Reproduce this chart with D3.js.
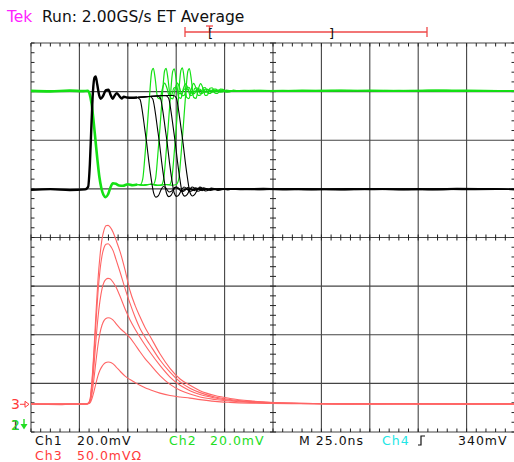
<!DOCTYPE html>
<html>
<head>
<meta charset="utf-8">
<script src="https://cdn.jsdelivr.net/npm/d3@7"></script>
<style>
  body { margin: 0; background: #fff; }
  svg { display: block; }
  text { font-family: "DejaVu Sans", sans-serif; }
</style>
</head>
<body>
<div id="chartContainer"></div>
<script>
// time in ns from the left edge of the screen, values in mV
// Ch1 / Ch2 read against the centre line (20 mV/div), Ch3 against its ground marker (50 mV/div)

// Ch1 (black): common rising edge, then five different falling edges
var ch1Head = [[0,19.6],[10,19.9],[20,19.5],[28,19.8],[29.5,20.8],[30.4,30],[31.2,46],[32,60],[32.8,65.8],[33.4,66.2],[34.2,63],[35.2,58.5],[36,57.1],[37.2,58.2],[38.6,60.5],[40,60.8],[41.2,58.5],[42.2,57.1],[43.3,58.5],[44.3,59.4],[45.5,58.3],[46.8,57.2],[48,57.9],[49.5,57.6],[52,57.5],[54.8,57.6]];
var ch1Tails = [
  [[56.3,56.8],[57.5,52],[58.7,45],[59.8,38.5],[60.9,31],[62.1,24],[63.3,18.5],[64.6,16.6],[65.8,17.2],[67.1,19.5],[68.4,21],[69.8,20.2],[71.3,18.7],[72.8,19.2],[74.3,20.6],[75.8,20.2],[77.8,19.2],[79.8,19.9],[82.8,19.6],[86.8,20.1],[95,19.7],[110,20.1],[130,19.6],[150,20],[175,19.7],[200,20.1],[225,19.7],[250,19.9]],
  [[58,57.8],[61.4,58],[62.9,57],[64.1,52],[65.3,45],[66.4,38.5],[67.5,31],[68.7,24],[69.9,18.5],[71.2,16.8],[72.4,17.4],[73.7,19.5],[75,20.9],[76.4,20.2],[77.9,18.8],[79.4,19.3],[80.9,20.5],[82.4,20.1],[84.4,19.3],[86.4,19.9],[89.4,19.6],[93.4,20.1],[105,19.8],[120,20.2],[140,19.7],[165,20.1],[190,19.6],[215,20],[250,19.7]],
  [[58,57.8],[62,58.1],[65.4,58.2],[66.9,57.2],[68.1,52],[69.3,45],[70.4,38.5],[71.5,31],[72.7,24],[73.9,18.5],[75.2,16.9],[76.4,17.5],[77.7,19.5],[79,20.8],[80.4,20.2],[81.9,18.9],[83.4,19.3],[84.9,20.4],[86.4,20.1],[88.4,19.3],[90.4,19.9],[93.4,19.6],[97.4,20.1],[108,19.7],[125,20.1],[145,19.6],[170,20],[195,19.7],[220,20.2],[250,19.8]],
  [[58,57.8],[63,58.1],[67,58.3],[69.6,58.3],[71.1,57.3],[72.3,52],[73.5,45],[74.6,38.5],[75.7,31],[76.9,24],[78.1,18.5],[79.4,17],[80.6,17.6],[81.9,19.5],[83.2,20.8],[84.6,20.2],[86.1,19],[87.6,19.4],[89.1,20.4],[90.6,20.1],[92.6,19.4],[94.6,19.9],[97.6,19.6],[101.6,20.1],[115,19.7],[135,20.1],[160,19.6],[185,20],[210,19.7],[235,20.1],[250,19.8]],
  [[58,57.8],[63,58.1],[68,58.4],[73.6,58.4],[75.1,57.4],[76.3,52],[77.5,45],[78.6,38.5],[79.7,31],[80.9,24],[82.1,18.5],[83.4,17.1],[84.6,17.7],[85.9,19.5],[87.2,20.7],[88.6,20.2],[90.1,19.1],[91.6,19.4],[93.1,20.3],[94.6,20.1],[96.6,19.4],[98.6,19.9],[101.6,19.6],[105.6,20.1],[118,19.7],[138,20.1],[160,19.7],[180,20.1],[205,19.6],[230,20],[250,19.7]]
];

// Ch2 (green): common falling edge, then five rising edges with ringing
var ch2Head = [[0,60.3],[10,60.1],[20,60.4],[27,60.2],[29.3,60.3],[30.3,59],[31.3,55],[32.3,48],[33.3,40],[34.3,32],[35.3,25],[36.3,20.5],[37.4,17.6],[38.6,16.6],[39.8,17.8],[41,20.5],[42.3,22.3],[43.8,22.1],[45.5,21.4],[47.5,21.3],[50,21.9],[52.5,21.5],[55,21.8]];
var ch2Tails = [
  [[56.5,21.8],[57.7,24],[58.8,33],[60,45],[61.2,58],[62.4,68.5],[63.2,69.6],[64.2,65],[65.4,57.5],[66.6,57],[67.8,61],[69,63.5],[70.2,61.5],[71.4,58.3],[72.6,58.5],[73.8,61.5],[75,61.8],[76.4,59.3],[77.8,59.2],[79.2,61],[80.6,61],[82,59.8],[84,59.8],[86,60.6],[89,60.2],[95,60.5],[110,60.1],[130,60.5],[150,60.1],[175,60.6],[200,60.2],[225,60.5],[250,60.3]],
  [[58,21.5],[61,21.9],[63.1,21.8],[64.3,24],[65.4,33],[66.6,45],[67.8,58],[69,68.5],[69.8,69.6],[70.8,65],[72,57.5],[73.2,57],[74.4,61],[75.6,63.5],[76.8,61.5],[78,58.3],[79.2,58.5],[80.4,61.5],[81.6,61.8],[83,59.3],[84.4,59.2],[85.8,61],[87.2,61],[88.6,59.8],[90.6,59.8],[92.6,60.6],[95.6,60.2],[105,60.4],[120,60.1],[140,60.6],[165,60.2],[190,60.5],[215,60.1],[250,60.4]],
  [[58,21.5],[62,21.9],[65,21.5],[67.3,21.6],[68.5,24],[69.6,33],[70.8,45],[72,58],[73.2,68.3],[74,69.4],[75,65],[76.2,57.8],[77.4,57.2],[78.6,61],[79.8,63.2],[81,61.5],[82.2,58.4],[83.4,58.6],[84.6,61.4],[85.8,61.6],[87.2,59.4],[88.6,59.3],[90,61],[91.4,60.9],[92.8,59.8],[94.8,59.9],[96.8,60.6],[99.8,60.2],[110,60.5],[130,60.1],[155,60.5],[180,60.2],[205,60.6],[230,60.2],[250,60.4]],
  [[58,21.5],[62,21.9],[66,21.4],[69,21.8],[71.5,21.7],[72.7,24],[73.8,33],[75,45],[76.2,58],[77.4,68.6],[78.2,69.8],[79.2,65],[80.4,57.6],[81.6,57.1],[82.8,61],[84,63.4],[85.2,61.5],[86.4,58.4],[87.6,58.6],[88.8,61.5],[90,61.7],[91.4,59.3],[92.8,59.3],[94.2,61],[95.6,61],[97,59.8],[99,59.9],[101,60.6],[104,60.2],[115,60.5],[135,60.2],[160,60.6],[185,60.1],[210,60.5],[235,60.2],[250,60.3]],
  [[58,21.5],[62,21.9],[66,21.4],[70,21.8],[73,21.5],[75.1,21.8],[76.3,24],[77.4,33],[78.6,45],[79.8,58],[81,68.3],[81.8,69.5],[82.8,65],[84,57.7],[85.2,57.2],[86.4,61],[87.6,63.3],[88.8,61.5],[90,58.4],[91.2,58.6],[92.4,61.4],[93.6,61.6],[95,59.4],[96.4,59.3],[97.8,61],[99.2,60.9],[100.6,59.8],[102.6,59.9],[104.6,60.6],[107.6,60.2],[118,60.5],[140,60.1],[165,60.5],[190,60.2],[215,60.6],[250,60.3]]
];

// Ch3 (red): five pulses
var ch3Traces = [
  [[0,0.3],[15,-0.3],[20,0.2],[28.5,0.3],[29.5,1],[30.5,5],[31.5,25],[32.5,55],[33.6,95],[34.6,128],[35.6,152],[36.7,170],[37.7,179],[38.7,183.5],[39.8,184],[40.8,182.5],[42.4,177],[43.9,169],[46,157],[48.6,138],[51.1,117],[53.7,102],[56.3,90],[58.9,79],[61.5,70],[66.6,52],[71.8,37],[77,26],[82.1,19.5],[87.3,14],[95,9],[102.8,6],[113.1,3.5],[123.5,2],[139,1],[165,0.3],[190,0.6],[220,0.2],[250,0.4]],
  [[0,0.3],[28.5,0.3],[29.5,1],[30.5,4.5],[31.5,22],[32.5,50],[33.6,86],[34.6,115],[35.6,137],[36.7,153],[37.7,161],[38.7,164.5],[39.8,165],[40.8,163.5],[42.4,158],[43.9,149],[46,136],[48.6,119],[51.1,104],[53.7,90],[56.3,78],[58.9,69],[61.5,61],[66.6,45.5],[71.8,33],[77,23],[82.1,16.5],[87.3,12],[95,7.5],[102.8,5],[113.1,3],[123.5,1.8],[139,1],[165,0.4],[200,0.6],[250,0.3]],
  [[0,0.3],[28.5,0.3],[29.5,0.8],[30.5,3.5],[31.5,17],[32.5,39],[33.6,67],[34.6,89],[35.6,106],[36.7,119],[37.7,125.5],[38.7,128.5],[39.8,129.5],[40.8,129],[42.4,125.5],[43.9,120.5],[46,111],[48.6,98],[51.1,87],[53.7,77.5],[56.3,69],[58.9,61],[61.5,53.5],[66.6,40],[71.8,28],[77,19.5],[82.1,14],[87.3,10],[95,6.5],[102.8,4.2],[113.1,2.5],[123.5,1.5],[139,0.8],[165,0.4],[250,0.3]],
  [[0,0.3],[28.5,0.3],[29.5,0.6],[30.5,2.5],[31.5,11],[32.5,26],[33.6,45],[34.6,61],[35.6,73],[36.7,81.5],[37.7,86],[38.7,88.3],[39.8,89],[40.8,88.8],[42.4,86.5],[43.9,83],[46,78],[48.6,73.5],[51.1,68.5],[53.7,61.5],[56.3,54],[58.9,47],[61.5,41],[66.6,29.5],[71.8,20.5],[77,14.5],[82.1,10.5],[87.3,7.5],[95,5],[102.8,3.3],[113.1,2],[123.5,1.3],[139,0.8],[165,0.4],[250,0.3]],
  [[0,0.3],[28.5,0.3],[29.5,0.5],[30.5,1.5],[31.5,6],[32.5,13],[33.6,22],[34.6,29.5],[35.6,35],[36.7,39],[37.7,41.5],[38.7,43],[39.8,43.5],[40.8,43.3],[42.4,41.5],[43.9,38.5],[46,34],[48.6,29],[51.1,25.5],[53.7,22.5],[56.3,19.5],[58.9,17],[61.5,15],[66.6,11.5],[71.8,9],[77,7.5],[82.1,6.3],[87.3,4.8],[95,3],[102.8,2],[113.1,1.2],[123.5,0.8],[139,0.5],[165,0.4],[250,0.3]]
];

// channel settings: mV per division and position of the reference (divisions)
var chScale = { ch1: 20, ch2: 20, ch3: 50 };
var chPos = { ch1: 0, ch2: 0, ch3: -3.43 };

// readout texts
var headerTek = "Tek";
var headerRun = "Run: 2.00GS/s ET Average";
var readouts = [
  { text: "Ch1", x: 35, row: 0, color: "#111" },
  { text: "20.0mV", x: 77, row: 0, color: "#111" },
  { text: "Ch2", x: 169, row: 0, color: "#22dd22" },
  { text: "20.0mV", x: 210, row: 0, color: "#22dd22" },
  { text: "M 25.0ns", x: 299, row: 0, color: "#111" },
  { text: "Ch4", x: 382, row: 0, color: "#22e6e6" },
  { text: "340mV", x: 458, row: 0, color: "#111" },
  { text: "Ch3", x: 35, row: 1, color: "#ff3b3b" },
  { text: "50.0mVΩ", x: 77, row: 1, color: "#ff3b3b" }
];

function init() {
    var w = 514, h = 462;
    var left = 31, right = 515, top = 43, bottom = 432;

    var svg = d3.select("#chartContainer")
                .append("svg")
                .attr("width", w)
                .attr("height", h);

    var xDiv = d3.scaleLinear().domain([0, 10]).range([left, right]);
    var yDiv = d3.scaleLinear().domain([-4, 4]).range([bottom, top]);
    var x = d3.scaleLinear().domain([0, 250]).range([left, right]);

    var grid = svg.append("g").attr("stroke", "#444").attr("stroke-width", 1.1);

    // graticule lines
    grid.selectAll("line.v")
        .data(d3.range(0, 11))
        .enter().append("line")
        .attr("x1", d => xDiv(d)).attr("x2", d => xDiv(d))
        .attr("y1", top).attr("y2", bottom);
    grid.selectAll("line.h")
        .data(d3.range(0, 9))
        .enter().append("line")
        .attr("class", "h")
        .attr("x1", left).attr("x2", right)
        .attr("y1", d => yDiv(d - 4)).attr("y2", d => yDiv(d - 4));

    // minor ticks, 5 per division
    var xMinor = d3.range(0, 50.01, 1).map(d => d / 5);
    var yMinor = d3.range(-20, 20.01, 1).map(d => d / 5);
    var ticks = svg.append("g").attr("stroke", "#222").attr("stroke-width", 1);
    xMinor.forEach(function(d) {
        var px = xDiv(d);
        ticks.append("line").attr("x1", px).attr("x2", px).attr("y1", top).attr("y2", top + 3.5);
        ticks.append("line").attr("x1", px).attr("x2", px).attr("y1", bottom).attr("y2", bottom - 3.5);
        ticks.append("line").attr("x1", px).attr("x2", px).attr("y1", yDiv(0) - 3).attr("y2", yDiv(0) + 3);
    });
    yMinor.forEach(function(d) {
        var py = yDiv(d);
        ticks.append("line").attr("x1", left).attr("x2", left + 3.5).attr("y1", py).attr("y2", py);
        ticks.append("line").attr("x1", right - 3.5).attr("x2", right).attr("y1", py).attr("y2", py);
        ticks.append("line").attr("x1", xDiv(5) - 3).attr("x2", xDiv(5) + 3).attr("y1", py).attr("y2", py);
    });

    function lineFor(ch) {
        return d3.line()
                 .x(d => x(d[0]))
                 .y(d => yDiv(chPos[ch] + d[1] / chScale[ch]))
                 .curve(d3.curveMonotoneX);
    }

    var traces = svg.append("g").attr("fill", "none")
                    .attr("stroke-linejoin", "round");

    // Ch3 red pulses
    traces.selectAll("path.ch3")
          .data(ch3Traces)
          .enter().append("path")
          .attr("d", lineFor("ch3"))
          .attr("stroke", "#ff6464")
          .attr("stroke-width", 1.1);

    // Ch2 green
    traces.append("path")
          .attr("d", lineFor("ch2")(ch2Head))
          .attr("stroke", "#14e014")
          .attr("stroke-width", 2.6);
    traces.selectAll("path.ch2")
          .data(ch2Tails)
          .enter().append("path")
          .attr("d", d => lineFor("ch2")([ch2Head[ch2Head.length - 1]].concat(d)))
          .attr("stroke", "#14e014")
          .attr("stroke-width", 1.2);

    // Ch1 black
    traces.append("path")
          .attr("d", lineFor("ch1")(ch1Head))
          .attr("stroke", "#000")
          .attr("stroke-width", 2.4);
    traces.selectAll("path.ch1")
          .data(ch1Tails)
          .enter().append("path")
          .attr("d", d => lineFor("ch1")([ch1Head[ch1Head.length - 1]].concat(d)))
          .attr("stroke", "#000")
          .attr("stroke-width", 1.1);

    // header
    svg.append("text").attr("x", 7).attr("y", 22)
       .attr("font-size", 15.5).attr("fill", "#ff22ff").text(headerTek);
    svg.append("text").attr("x", 42).attr("y", 22)
       .attr("font-size", 15.5).attr("fill", "#111").text(headerRun);

    // record view bar
    var bar = svg.append("g").attr("stroke", "#ee4848").attr("stroke-width", 1.3);
    bar.append("line").attr("x1", 185).attr("x2", 427).attr("y1", 32).attr("y2", 32);
    bar.append("line").attr("x1", 185).attr("x2", 185).attr("y1", 27).attr("y2", 37);
    bar.append("line").attr("x1", 427).attr("x2", 427).attr("y1", 27).attr("y2", 37);
    bar.append("line").attr("x1", 206).attr("x2", 213).attr("y1", 26).attr("y2", 26);
    bar.append("line").attr("x1", 209.5).attr("x2", 209.5).attr("y1", 26).attr("y2", 31);
    svg.append("text").attr("x", 208).attr("y", 38).attr("font-size", 13)
       .attr("fill", "#111").text("[");
    svg.append("text").attr("x", 329).attr("y", 38).attr("font-size", 13)
       .attr("fill", "#111").text("]");

    // channel reference markers
    var g3 = yDiv(chPos.ch3);
    svg.append("text").attr("x", 11).attr("y", g3 + 5).attr("font-size", 14)
       .attr("fill", "#ff3b3b").text("3");
    svg.append("line").attr("x1", 20).attr("x2", 26).attr("y1", g3).attr("y2", g3)
       .attr("stroke", "#ff3b3b").attr("stroke-width", 1);
    svg.append("path").attr("d", `M25,${g3 - 3}L29,${g3}L25,${g3 + 3}Z`)
       .attr("fill", "#fff").attr("stroke", "#ff3b3b").attr("stroke-width", 1);

    svg.append("text").attr("x", 11).attr("y", 430).attr("font-size", 14)
       .attr("fill", "#333").text("1");
    svg.append("text").attr("x", 11).attr("y", 430).attr("font-size", 14)
       .attr("fill", "#22dd22").text("2");
    svg.append("line").attr("x1", 24).attr("x2", 24).attr("y1", 419).attr("y2", 428)
       .attr("stroke", "#22dd22").attr("stroke-width", 1.4);
    svg.append("path").attr("d", "M20.5,424L27.5,424L24,429.5Z").attr("fill", "#22dd22");

    // readouts under the graticule
    svg.selectAll("text.readout")
       .data(readouts)
       .enter().append("text")
       .attr("class", "readout")
       .attr("x", d => d.x)
       .attr("y", d => d.row === 0 ? 444.5 : 459.5)
       .attr("font-size", 12.5)
       .attr("letter-spacing", 1)
       .attr("fill", d => d.color)
       .text(d => d.text);

    // rising-slope trigger symbol
    svg.append("path").attr("d", "M418,445L421,445L421,436L425,436")
       .attr("fill", "none").attr("stroke", "#111").attr("stroke-width", 1.2);
}

window.onload = init;
</script>
</body>
</html>
